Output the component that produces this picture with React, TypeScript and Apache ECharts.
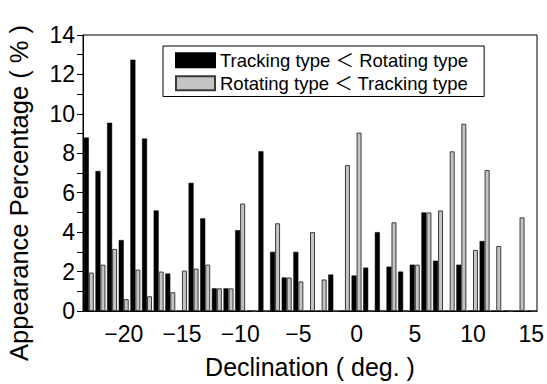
import React, { useEffect, useRef } from "react";
import * as echarts from "echarts";

const declinations: string[] = [
  "-23","-22","-21","-20","-19","-18","-17","-16","-15","-14","-13","-12","-11","-10",
  "-9","-8","-7","-6","-5","-4","-3","-2","-1","0","1","2","3","4","5","6","7","8",
  "9","10","11","12","13","14","15",
];

const trackingLessThanRotating: number[] = [
  8.8, 7.1, 9.55, 3.6, 12.75, 8.75, 5.1, 1.9, 0, 6.5, 4.7, 1.15, 1.15, 4.1,
  0, 8.1, 3.0, 1.7, 3.0, 0, 0, 1.85, 0, 1.8, 2.2, 4.0, 2.25, 2.0, 2.35, 5.0, 2.55, 0,
  2.35, 0, 3.55, 0, 0, 0, 0,
];

const rotatingLessThanTracking: number[] = [
  1.95, 2.35, 3.15, 0.6, 2.1, 0.75, 2.0, 0.95, 2.05, 2.15, 2.35, 1.15, 1.15, 5.45,
  0, 0, 4.45, 1.7, 1.5, 4.0, 1.6, 0, 7.4, 9.05, 0, 0, 4.5, 0, 2.35, 5.0, 5.1, 8.1,
  9.5, 3.1, 7.15, 3.3, 0, 4.75, 0,
];

const seriesNames: string[] = [
  "Tracking type \uFF1C Rotating type",
  "Rotating type \uFF1C Tracking type",
];

const xAxisTitle = "Declination ( deg. )";
const yAxisTitle = "Appearance Percentage ( % )";

const FONT = "'Liberation Sans', Arial, 'Noto Sans CJK JP', sans-serif";

export default function App() {
  const ref = useRef<HTMLDivElement>(null);
  useEffect(() => {
    if (!ref.current) return;
    const chart = echarts.init(ref.current, undefined, { renderer: "svg" });
    chart.setOption({
      animation: false,
      backgroundColor: "#ffffff",
      textStyle: { fontFamily: FONT, color: "#000" },
      grid: {
        left: 83,
        right: 10,
        top: 35,
        bottom: 72,
        show: true,
        borderColor: "#000",
        borderWidth: 1,
        backgroundColor: "transparent",
      },
      legend: {
        orient: "vertical",
        left: 163,
        top: 46,
        padding: [5, 16, 4, 12],
        itemWidth: 39,
        itemHeight: 14,
        itemGap: 4.5,
        icon: "rect",
        borderColor: "#000",
        borderWidth: 1,
        borderRadius: 0,
        backgroundColor: "#fff",
        textStyle: { fontFamily: FONT, fontSize: 18.5, color: "#000" },
        data: seriesNames,
      },
      xAxis: {
        type: "category",
        data: declinations,
        name: xAxisTitle,
        nameLocation: "middle",
        nameGap: 43,
        nameTextStyle: { fontFamily: FONT, fontSize: 25, color: "#000" },
        axisLine: { lineStyle: { color: "#000", width: 1 } },
        axisTick: {
          alignWithLabel: true,
          interval: 0,
          length: 6,
          lineStyle: { color: "#000" },
        },
        axisLabel: {
          interval: (_i: number, v: string) => Number(v) % 5 === 0,
          formatter: (v: string) => v.replace("-", "\u2212"),
          fontFamily: FONT,
          fontSize: 23,
          color: "#000",
          margin: 12,
        },
        splitLine: { show: false },
      },
      yAxis: {
        type: "value",
        min: 0,
        max: 14,
        interval: 1,
        axisLine: { show: true, lineStyle: { color: "#000", width: 1 } },
        axisTick: { show: true, length: 6, lineStyle: { color: "#000" } },
        axisLabel: {
          formatter: (v: number) => (v % 2 === 0 ? String(v) : ""),
          fontFamily: FONT,
          fontSize: 23,
          color: "#000",
          margin: 8,
        },
        splitLine: { show: false },
      },
      graphic: [
        {
          type: "text",
          x: 19,
          y: 193,
          rotation: Math.PI / 2,
          style: {
            text: yAxisTitle,
            fontFamily: FONT,
            fontSize: 25.5,
            fill: "#000",
            align: "center",
            verticalAlign: "middle",
          },
        },
      ],
      series: [
        {
          name: seriesNames[0],
          type: "bar",
          data: trackingLessThanRotating,
          barWidth: 5,
          barGap: "0%",
          itemStyle: { color: "#000", borderColor: "#000", borderWidth: 0.5 },
        },
        {
          name: seriesNames[1],
          type: "bar",
          data: rotatingLessThanTracking,
          barWidth: 5,
          barGap: "0%",
          itemStyle: { color: "#c4c4c4", borderColor: "#3a3a3a", borderWidth: 1 },
        },
      ],
    });
    return () => chart.dispose();
  }, []);
  return (
    <div
      ref={ref}
      style={{ position: "fixed", left: 0, top: 0, width: 547, height: 384 }}
    />
  );
}
